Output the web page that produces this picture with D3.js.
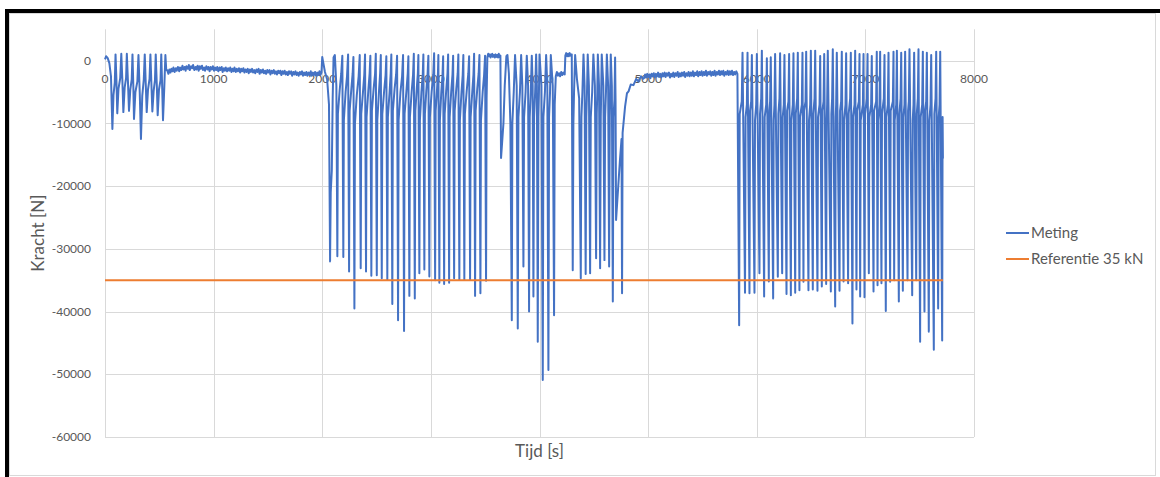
<!DOCTYPE html>
<html><head><meta charset="utf-8">
<script src="https://cdn.jsdelivr.net/npm/d3@7"></script>
<style>body{margin:0;background:#fff}svg{display:block}text{font-family:Lato,"Open Sans",sans-serif}</style>
</head><body><svg id="c" width="1160" height="477"></svg>
<script>
// ---- data (time [s], force [N]) ----
const xTicks = [0,1000,2000,3000,4000,5000,6000,7000,8000];
const yTicks = [0,-10000,-20000,-30000,-40000,-50000,-60000];
const seriesNames = ["Meting","Referentie 35 kN"];
const referenceForce = -35000;

const startupPts = [[0,200],[10,700],[25,400],[40,-400],[55,-2500],[68,-10900],[78,-5500],[90,-3500],[97,1000],[105,-3000],[113,-8400],[124,-4500],[140,-2800],[150,1100],[160,-3200],[169,-8200],[181,-4300],[194,-2800],[201,1100],[211,-3200],[221,-8000],[233,-4600],[246,-3000],[253,1000],[261,-4200],[267,-9300],[280,-5000],[298,-3300],[308,900],[320,-5200],[331,-12500],[343,-5600],[357,-3000],[366,1000],[375,-3600],[384,-8200],[396,-4600],[410,-2900],[418,1000],[427,-3600],[436,-8100],[448,-4800],[460,-3100],[467,1000],[477,-3900],[485,-8700],[497,-4600],[511,-3100],[518,1000],[527,-4600],[534,-9500],[546,-4200],[556,900],[564,-1500]];

const drift1Pts = [[572,-1500],[584,-2100],[592,-1400],[603,-1900],[611,-1300],[622,-1700],[630,-1100],[641,-1800],[652,-1200],[660,-1600],[671,-1000],[683,-1700],[690,-1100],[702,-1500],[713,-800],[721,-1400],[733,-1000],[742,-1600],[750,-900],[763,-1300],[772,-700],[780,-1500],[792,-900],[803,-1200],[811,-700],[822,-1500],[834,-1000],[841,-1400],[853,-800],[862,-1600],[873,-900],[881,-1300],[893,-800],[902,-1500],[914,-1100],[921,-1600],[933,-900],[944,-1400],[952,-1000],[963,-1700],[972,-1000],[984,-1400],[993,-900],[1004,-1600],[1012,-1100],[1024,-1500],[1033,-1000],[1043,-1700],[1054,-1100],[1062,-1500],[1074,-1000],[1083,-1800],[1094,-1200],[1103,-1600],[1112,-1100],[1124,-1700],[1133,-1200],[1145,-1600],[1153,-1100],[1164,-1800],[1173,-1300],[1184,-1700],[1192,-1100],[1204,-1800],[1213,-1300],[1224,-1700],[1233,-1200],[1244,-1900],[1253,-1300],[1262,-1700],[1274,-1200],[1283,-1900],[1294,-1400],[1303,-1800],[1314,-1300],[1323,-2000],[1334,-1400],[1343,-1800],[1354,-1300],[1363,-1900],[1374,-1500],[1383,-2000],[1394,-1400],[1403,-1800],[1414,-1300],[1423,-2100],[1434,-1500],[1443,-1900],[1454,-1400],[1463,-2000],[1474,-1600],[1483,-2100],[1494,-1500],[1503,-1900],[1514,-1500],[1523,-2200],[1534,-1600],[1543,-2000],[1554,-1500],[1563,-2100],[1574,-1700],[1583,-2200],[1594,-1600],[1603,-2000],[1614,-1600],[1623,-2300],[1634,-1700],[1643,-2100],[1654,-1600],[1663,-2200],[1674,-1800],[1683,-2300],[1694,-1700],[1703,-2100],[1714,-1700],[1723,-2400],[1734,-1800],[1743,-2200],[1754,-1700],[1763,-2300],[1774,-1900],[1783,-2400],[1794,-1800],[1803,-2200],[1814,-1700],[1823,-2400],[1834,-1900],[1843,-2300],[1854,-1800],[1863,-2400],[1874,-1900],[1883,-2300],[1894,-1700],[1903,-2400],[1914,-1900],[1923,-2300],[1934,-1800],[1943,-2400],[1954,-1900],[1963,-2300],[1974,-1700],[1983,-2300],[1993,-1900]];

const block2Pts = [[2000,600],[2008,-200],[2025,-1800],[2045,-3000],[2062,-7000],[2072,-32000],[2078,-21000],[2088,-17500],[2096,-6000],[2104,500],[2116,900],[2130,-4000],
[2139,-31200],[2144,-8500],[2160,-4800],[2175,-2000],[2185,800],
[2194,-31300],[2199,-9500],[2215,-5000],[2228,-2500],[2238,1000],
[2247,-33600],[2252,-8000],[2268,-4500],[2280,-2000],[2287,600],
[2296,-39500],[2301,-10000],[2318,-5500],[2335,-2500],[2345,900],
[2354,-33100],[2359,-8500],[2375,-5000],[2387,-2200],[2394,1000],
[2403,-33600],[2408,-9000],[2424,-4800],[2436,-2000],[2443,800],
[2452,-34300],[2457,-8000],[2473,-4500],[2486,-2200],[2493,1100],
[2502,-34200],[2507,-9500],[2522,-5000],[2533,-2000],[2539,900],
[2548,-34700],[2553,-8500],[2570,-4800],[2583,-2300],[2590,700],
[2599,-34900],[2604,-9000],[2620,-5000],[2630,-2000],[2636,1000],
[2645,-38800],[2650,-8000],[2666,-4500],[2680,-2200],[2689,800],
[2698,-41400],[2703,-9500],[2720,-5000],[2735,-2500],[2744,900],
[2753,-43100],[2758,-8500],[2775,-4800],[2787,-2000],[2793,700],
[2802,-37500],[2807,-9000],[2823,-5000],[2836,-2200],[2843,1100],
[2852,-37900],[2857,-8000],[2870,-4500],[2880,-2000],[2885,900],
[2894,-33900],[2899,-9500],[2913,-5000],[2925,-2300],[2931,1000],
[2940,-33300],[2945,-8500],[2958,-4800],[2970,-2000],[2977,800],
[2986,-34400],[2991,-9000],[3007,-5000],[3022,-2200],[3030,1200],
[3039,-35000],[3044,-8000],[3057,-4500],[3065,-2000],[3069,900],
[3078,-35400],[3083,-9500],[3096,-5000],[3107,-2300],[3113,700],
[3122,-35600],[3127,-8500],[3141,-4800],[3153,-2000],[3159,1000],
[3168,-35400],[3173,-9000],[3187,-5000],[3199,-2200],[3205,800],
[3214,-34700],[3219,-8000],[3234,-4500],[3247,-2000],[3253,1000],
[3262,-34900],[3267,-9500],[3282,-5000],[3293,-2300],[3299,900],
[3308,-34900],[3313,-8500],[3330,-4800],[3345,-2000],[3352,700],
[3361,-34900],[3366,-9000],[3381,-5000],[3392,-2200],[3398,1100],
[3407,-37500],[3412,-8000],[3427,-4500],[3440,-2000],[3447,900],
[3456,-37100],[3461,-9500],[3477,-5000],[3490,-2300],[3499,800],
[3508,-35100],[3513,-6000]];

const block3Pts = [[3520,600],[3528,1100],[3535,700],[3544,1000],[3550,500],[3558,900],[3565,1100],[3572,600],[3580,900],[3588,500],[3595,1000],[3603,600],[3610,900],[3618,500],[3625,1100],[3633,600],[3640,800],[3646,-15500],[3668,-10000],[3680,-4000],[3695,700],[3705,900],[3718,-2000],[3732,-10000],
[3745,-41400],[3750,-10000],[3763,-5000],[3775,900],[3790,-4000],
[3800,-42700],[3806,-9000],[3820,-5000],[3831,900],[3842,-4000],
[3852,-32800],[3858,-9000],[3872,-5000],[3883,800],[3895,-4000],
[3904,-40000],[3910,-9000],[3920,-5000],[3929,800],[3937,-4000],
[3944,-37600],[3950,-9000],[3960,-5000],[3969,1000],[3976,-4000],
[3984,-44800],[3990,-9000],[3995,-5000],[4000,1000],[4018,-4000],
[4030,-50900],[4036,-9000],[4050,-5000],[4061,900],[4072,-4000],
[4082,-49300],[4088,-9000],[4097,-5000],[4104,900],[4122,-4000],
[4134,-40600],[4140,-7000],[4150,-2500],[4160,-1800],[4170,-2400],[4180,-2000],[4190,-2500],[4200,-1800],[4210,-2300],[4220,-1900],[4232,-2200],[4238,800],[4246,1200],[4255,700],[4263,1100],[4270,700],[4278,1200],[4285,800],[4297,1000]];

const block4Pts = [[4306,-33400],[4312,-10000],[4318,-5000],[4328,900],[4345,-3000],[4365,-6000],
[4380,-34700],[4386,-9000],[4395,-5000],[4405,1000],[4415,-4000],
[4425,-34000],[4431,-9000],[4438,-4500],[4444,1000],[4455,-4000],
[4466,-33900],[4472,-9000],[4485,-5000],[4496,1000],[4510,-4000],
[4521,-31500],[4527,-8500],[4532,-5000],[4537,1000],[4548,-4000],
[4558,-33100],[4564,-9000],[4568,-5000],[4573,1000],[4588,-4000],
[4598,-31800],[4604,-9000],[4612,-5000],[4620,1000],[4632,-4000],
[4641,-32800],[4647,-9000],[4651,-5000],[4656,1000],[4666,-4000],
[4675,-38400],[4681,-9000],[4690,-6300],[4696,500],[4700,-6000],
[4705,-25400],[4740,-16000],[4755,-12500],[4760,-37100],[4765,-11500],[4788,-7300],[4805,-5200],[4820,-4900],[4840,-3800],[4865,-3900],[4890,-2900],[4910,-3300],[4935,-2500],[4952,-2900]];

const drift2Pts = [[4962,-2800],[4972,-2200],[4981,-2700],[4992,-2100],[5001,-2600],[5012,-2200],[5021,-2800],[5032,-2100],[5041,-2500],[5052,-2000],[5061,-2700],[5072,-2100],[5081,-2500],[5092,-1900],[5101,-2600],[5112,-2100],[5121,-2700],[5132,-2000],[5141,-2500],[5152,-1900],[5161,-2600],[5172,-2000],[5181,-2400],[5192,-1900],[5201,-2700],[5212,-2100],[5221,-2500],[5232,-1900],[5241,-2600],[5252,-2000],[5261,-2400],[5272,-1800],[5281,-2600],[5292,-2000],[5301,-2500],[5312,-1900],[5321,-2400],[5332,-1800],[5341,-2600],[5352,-2000],[5361,-2400],[5372,-1800],[5381,-2500],[5392,-1900],[5401,-2400],[5412,-1700],[5421,-2500],[5432,-1900],[5441,-2300],[5452,-1700],[5461,-2500],[5472,-1800],[5481,-2300],[5492,-1700],[5501,-2400],[5512,-1800],[5521,-2300],[5532,-1600],[5541,-2400],[5552,-1800],[5561,-2200],[5572,-1700],[5581,-2400],[5592,-1800],[5601,-2300],[5612,-1600],[5621,-2400],[5632,-1800],[5641,-2200],[5652,-1600],[5661,-2300],[5672,-1700],[5681,-2200],[5692,-1600],[5701,-2400],[5712,-1800],[5721,-2200],[5732,-1600],[5741,-2300],[5752,-1700],[5761,-2200],[5772,-1600],[5781,-2300],[5792,-1800],[5801,-2200],[5812,-1700],[5822,-2100]];

const block5Pts = [[5838,-42200],[5843,-8500],[5862,-6500],
[5869,1280],[5892,-37000],[5897,-9000],[5909,-7000],
[5915,1280],[5933,-37100],[5938,-8000],[5949,-6500],
[5955,910],[5979,-37000],[5984,-9500],[5995,-7000],
[6001,1070],[6025,-33900],[6030,-8500],[6041,-6000],
[6047,1600],[6068,-37600],[6073,-9000],[6087,-7000],
[6093,380],[6111,-35200],[6116,-8000],[6123,-6500],
[6129,540],[6151,-37900],[6156,-9500],[6163,-7000],
[6169,1070],[6194,-34450],[6199,-8500],[6209,-6000],
[6215,1170],[6234,-33900],[6239,-9000],[6249,-7000],
[6255,910],[6274,-37200],[6279,-8000],[6292,-6500],
[6298,1070],[6314,-37400],[6319,-9500],[6332,-7000],
[6338,1170],[6354,-37000],[6359,-8500],[6372,-6000],
[6378,1280],[6393,-36600],[6398,-9000],[6415,-7000],
[6421,1280],[6430,-35250],[6435,-8000],[6449,-6500],
[6455,1440],[6476,-36600],[6481,-9500],[6492,-7000],
[6498,1600],[6516,-36500],[6521,-8500],[6532,-6000],
[6538,1600],[6559,-36700],[6564,-9000],[6578,-7000],
[6584,750],[6599,-36000],[6604,-8000],[6615,-6500],
[6621,1070],[6639,-35600],[6644,-9500],[6648,-7000],
[6654,1600],[6682,-36800],[6687,-8500],[6694,-6000],
[6700,1810],[6722,-39200],[6727,-9000],[6731,-7000],
[6737,1280],[6762,-36700],[6767,-8000],[6777,-6500],
[6783,1440],[6799,-35200],[6804,-9500],[6817,-7000],
[6823,1170],[6841,-35500],[6846,-8500],[6860,-6000],
[6866,1280],[6881,-41900],[6886,-9000],[6900,-7000],
[6906,1600],[6918,-36500],[6923,-8000],[6940,-6500],
[6946,1070],[6952,-37600],[6957,-9500],[6977,-7000],
[6983,1070],[6992,-37700],[6997,-8500],[7014,-6000],
[7020,1070],[7032,-33900],[7037,-9000],[7053,-7000],
[7059,750],[7075,-36800],[7080,-8000],[7099,-6500],
[7105,1440],[7112,-35800],[7117,-9500],[7130,-7000],
[7136,1440],[7148,-35500],[7153,-8500],[7170,-6000],
[7176,910],[7188,-39900],[7193,-9000],[7207,-7000],
[7213,1280],[7228,-35250],[7233,-8000],[7253,-6500],
[7259,1440],[7265,-35000],[7270,-9500],[7284,-7000],
[7290,1600],[7308,-38400],[7313,-8500],[7324,-6000],
[7330,1280],[7345,-36700],[7350,-9000],[7360,-7000],
[7366,1440],[7388,-35000],[7393,-8000],[7400,-6500],
[7406,1810],[7431,-37400],[7436,-9500],[7443,-7000],
[7449,1280],[7468,-35000],[7473,-8500],[7483,-6000],
[7489,1810],[7504,-44800],[7509,-9000],[7523,-7000],
[7529,1440],[7544,-40000],[7549,-8000],[7560,-6500],
[7566,1280],[7584,-43200],[7589,-9500],[7600,-7000],
[7606,910],[7630,-46100],[7635,-8500],[7646,-6000],
[7652,1440],[7670,-39500],[7675,-9000],[7683,-7000],
[7689,1440],[7707,-44600],[7711,-9000],[7714,-15600]];

const referenceSpan = [0, 7714];

// ---- drawing ----
const meting = [].concat(startupPts, drift1Pts, block2Pts, block3Pts, block4Pts, drift2Pts, block5Pts);
const svg = d3.select("#c");
svg.append("rect").attr("width",1160).attr("height",477).attr("fill","#fff");
svg.append("rect").attr("x",9.5).attr("y",13.5).attr("width",1146).attr("height",462).attr("fill","none").attr("stroke","#d9d9d9");
svg.append("rect").attr("x",5).attr("y",9).attr("width",1155).attr("height",4).attr("fill","#000");
svg.append("rect").attr("x",5).attr("y",9).attr("width",4).attr("height",468).attr("fill","#000");

const x = d3.scaleLinear().domain([0,8000]).range([105,974]);
const y = d3.scaleLinear().domain([-60000,5000]).range([437,29.3]);
const grey = "#d9d9d9", txt = "#595959";

const g = svg.append("g");
g.selectAll("line.h").data(yTicks).join("line").attr("class","h")
  .attr("x1",x(0)).attr("x2",x(8000)).attr("y1",d=>Math.round(y(d))+0.5).attr("y2",d=>Math.round(y(d))+0.5)
  .attr("stroke",grey);
g.selectAll("line.v").data(xTicks).join("line").attr("class","v")
  .attr("y1",y(5000)).attr("y2",y(-60000)).attr("x1",d=>Math.round(x(d))+0.5).attr("x2",d=>Math.round(x(d))+0.5)
  .attr("stroke",grey);

g.selectAll("text.yl").data(yTicks).join("text").attr("class","yl")
  .attr("x",91).attr("y",d=>y(d)).attr("dy","0.35em").attr("text-anchor","end")
  .attr("font-size",12).attr("fill",txt).text(d=>d);
g.selectAll("text.xl").data(xTicks).join("text").attr("class","xl")
  .attr("x",d=>x(d)).attr("y",y(0)+18).attr("dy","0.35em").attr("text-anchor","middle")
  .attr("font-size",12).attr("fill",txt).text(d=>d);

svg.append("text").attr("transform",`translate(38,${(y(5000)+y(-60000))/2}) rotate(-90)`)
  .attr("text-anchor","middle").attr("dy","0.35em").attr("font-size",17).attr("fill",txt).text("Kracht [N]");
svg.append("text").attr("x",(x(0)+x(8000))/2).attr("y",451).attr("dy","0.35em")
  .attr("text-anchor","middle").attr("font-size",17).attr("fill",txt).text("Tijd [s]");

const line = d3.line().x(d=>x(d[0])).y(d=>y(d[1]));
svg.append("path").datum(meting).attr("d",line).attr("fill","none")
  .attr("stroke","#4472C4").attr("stroke-width",2).attr("stroke-linejoin","round");
svg.append("path").datum(referenceSpan.map(t=>[t,referenceForce])).attr("d",line).attr("fill","none")
  .attr("stroke","#ED7D31").attr("stroke-width",2);

const colors = ["#4472C4","#ED7D31"];
const lg = svg.selectAll("g.lg").data(seriesNames).join("g").attr("class","lg")
  .attr("transform",(d,i)=>`translate(1006,${233+i*26})`);
lg.append("line").attr("x1",0).attr("x2",23).attr("stroke",(d,i)=>colors[i]).attr("stroke-width",2);
lg.append("text").attr("x",25).attr("dy","0.35em").attr("font-size",15).attr("fill",txt).text(d=>d);
</script></body></html>
